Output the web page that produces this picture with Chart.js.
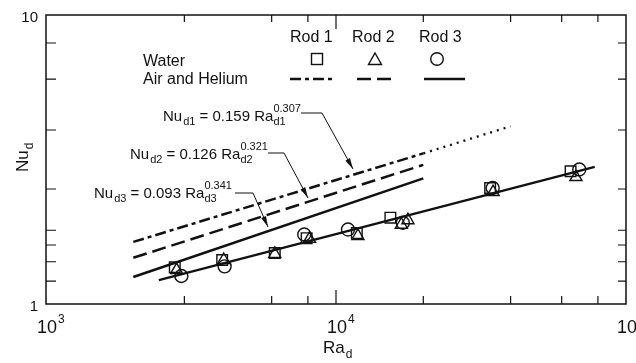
<!DOCTYPE html>
<html>
<head>
<meta charset="utf-8">
<script src="https://cdn.jsdelivr.net/npm/chart.js@4.4.0/dist/chart.umd.min.js"></script>
<style>
  html, body { margin: 0; padding: 0; background: #fff; }
</style>
</head>
<body>
<canvas id="nuChart" width="636" height="363"></canvas>
<script>
// Water measurements per rod, [Ra_d, Nu_d]
const rod1Water = [[2780, 1.34], [4050, 1.42], [6150, 1.50], [7920, 1.69], [11800, 1.76], [15400, 1.99], [34000, 2.52], [64400, 2.88]];
const rod2Water = [[2820, 1.31], [4100, 1.42], [6150, 1.49], [8100, 1.68], [11900, 1.72], [16800, 1.88], [17700, 1.95], [34800, 2.44], [67200, 2.75]];
const rod3Water = [[2930, 1.25], [4130, 1.35], [7770, 1.74], [11000, 1.81], [17000, 1.91], [34700, 2.52], [69000, 2.92]];

// Straight fit through the water points
const waterFit = [[2450, 1.21], [78000, 2.98]];

// Air and helium correlations, end points of each line
const rod1Air = [[2000, 1.64], [20000, 3.32]];
const rod1AirExt = [[20000, 3.32], [40000, 4.12]];
const rod2Air = [[2000, 1.445], [20000, 3.03]];
const rod3Air = [[2000, 1.24], [20000, 2.72]];

// Axis labels
const xDecades = [1000, 10000, 100000];
const xDecadeExp = ['3', '4', '5'];
const yTickValues = [1, 10];
const yTickText = ['1', '10'];

const rodNames = ['Rod 1', 'Rod 2', 'Rod 3'];
const fluidNames = ['Water', 'Air and Helium'];
const eqSubs = ['d1', 'd2', 'd3'];
const eqCoefs = ['0.159', '0.126', '0.093'];
const eqExps = ['0.307', '0.321', '0.341'];

const INK = '#111';
const FONT = "'Liberation Sans', Arial, sans-serif";

const pts = arr => arr.map(([x, y]) => ({ x, y }));

function pointSet(data, style, radius) {
  return {
    data: pts(data),
    showLine: false,
    pointStyle: style,
    pointRadius: radius,
    pointBorderColor: INK,
    pointBackgroundColor: 'rgba(0,0,0,0)',
    pointBorderWidth: 1.4
  };
}

function lineSet(data, dash, width) {
  return {
    data: pts(data),
    showLine: true,
    borderColor: INK,
    borderWidth: width,
    borderDash: dash,
    pointRadius: 0,
    tension: 0
  };
}

function font(size) {
  return size + 'px ' + FONT;
}

// Nu_dN = c Ra_dN^e with sub/superscripts
function drawEquation(ctx, x, y, i) {
  ctx.textAlign = 'left';
  ctx.textBaseline = 'alphabetic';
  ctx.font = font(15);
  ctx.fillText('Nu', x, y);
  x += ctx.measureText('Nu').width + 1;
  ctx.font = font(11);
  ctx.fillText(eqSubs[i], x, y + 4);
  x += ctx.measureText(eqSubs[i]).width;
  ctx.font = font(15);
  const mid = ' = ' + eqCoefs[i] + ' Ra';
  ctx.fillText(mid, x, y);
  x += ctx.measureText(mid).width;
  ctx.font = font(11);
  ctx.fillText(eqSubs[i], x, y + 4);
  ctx.fillText(eqExps[i], x, y - 9);
}

function drawArrow(ctx, path) {
  ctx.beginPath();
  ctx.moveTo(path[0][0], path[0][1]);
  for (let k = 1; k < path.length; k++) ctx.lineTo(path[k][0], path[k][1]);
  ctx.lineWidth = 1;
  ctx.stroke();
  const [x1, y1] = path[path.length - 2];
  const [x2, y2] = path[path.length - 1];
  const a = Math.atan2(y2 - y1, x2 - x1);
  const len = 11, half = 2.6;
  ctx.beginPath();
  ctx.moveTo(x2, y2);
  ctx.lineTo(x2 - len * Math.cos(a) + half * Math.sin(a), y2 - len * Math.sin(a) - half * Math.cos(a));
  ctx.lineTo(x2 - len * Math.cos(a) - half * Math.sin(a), y2 - len * Math.sin(a) + half * Math.cos(a));
  ctx.closePath();
  ctx.fill();
}

const decorations = {
  id: 'decorations',
  afterDraw(chart) {
    const { ctx, chartArea: area, scales } = chart;
    const { left, right, top, bottom } = area;
    ctx.save();
    ctx.strokeStyle = INK;
    ctx.fillStyle = INK;
    ctx.setLineDash([]);

    // frame
    ctx.lineWidth = 1.5;
    ctx.strokeRect(left, top, right - left, bottom - top);

    // inward ticks on all four sides
    ctx.lineWidth = 1.2;
    ctx.beginPath();
    scales.x.ticks.forEach(t => {
      const px = scales.x.getPixelForValue(t.value);
      if (px <= left + 1 || px >= right - 1) return;
      const major = Math.abs(Math.log10(t.value) - Math.round(Math.log10(t.value))) < 1e-6;
      ctx.moveTo(px, bottom); ctx.lineTo(px, bottom - (major ? 14 : 8));
      ctx.moveTo(px, top); ctx.lineTo(px, top + (major ? 14 : 7));
    });
    scales.y.ticks.forEach(t => {
      const py = scales.y.getPixelForValue(t.value);
      if (py <= top + 1 || py >= bottom - 1) return;
      ctx.moveTo(left, py); ctx.lineTo(left + 10, py);
      ctx.moveTo(right, py); ctx.lineTo(right - 8, py);
    });
    ctx.stroke();

    // x decade labels: 10 with exponent
    xDecades.forEach((v, i) => {
      const px = scales.x.getPixelForValue(v);
      ctx.textAlign = 'left';
      ctx.textBaseline = 'alphabetic';
      ctx.font = font(18);
      ctx.fillText('10', px - 9, bottom + 29);
      const w = ctx.measureText('10').width;
      ctx.font = font(12);
      ctx.fillText(xDecadeExp[i], px - 8 + w, bottom + 19);
    });

    // y labels
    ctx.font = font(15);
    ctx.textAlign = 'right';
    ctx.textBaseline = 'middle';
    yTickValues.forEach((v, i) => {
      ctx.fillText(yTickText[i], left - 8, scales.y.getPixelForValue(v) + 3);
    });

    // axis titles
    ctx.textAlign = 'left';
    ctx.textBaseline = 'alphabetic';
    ctx.font = font(17);
    ctx.fillText('Ra', 323, 353);
    let w = ctx.measureText('Ra').width;
    ctx.font = font(12);
    ctx.fillText('d', 323 + w + 1, 358);

    ctx.save();
    ctx.translate(28, 172);
    ctx.rotate(-Math.PI / 2);
    ctx.font = font(17);
    ctx.fillText('Nu', 0, 0);
    w = ctx.measureText('Nu').width;
    ctx.font = font(12);
    ctx.fillText('d', w + 1, 5);
    ctx.restore();

    // legend
    ctx.font = font(16);
    ctx.textAlign = 'left';
    [290, 352, 419].forEach((x, i) => ctx.fillText(rodNames[i], x, 42));
    ctx.fillText(fluidNames[0], 143, 66);
    ctx.fillText(fluidNames[1], 143, 84);

    ctx.lineWidth = 1.4;
    ctx.strokeRect(311.5, 53.5, 11, 11);
    ctx.beginPath();
    ctx.moveTo(375, 53); ctx.lineTo(381.5, 64.5); ctx.lineTo(368.5, 64.5); ctx.closePath();
    ctx.stroke();
    ctx.beginPath();
    ctx.arc(437, 59, 6.3, 0, Math.PI * 2);
    ctx.stroke();

    ctx.lineWidth = 2.5;
    [[290, 333, [11, 4, 4, 4]], [357, 396, [14, 6]], [424, 465, []]].forEach(([x1, x2, dash]) => {
      ctx.setLineDash(dash);
      ctx.beginPath();
      ctx.moveTo(x1, 79); ctx.lineTo(x2, 79);
      ctx.stroke();
    });
    ctx.setLineDash([]);

    // correlation labels with leader arrows
    ctx.fillStyle = INK;
    drawEquation(ctx, 163, 121, 0);
    drawEquation(ctx, 130, 159, 1);
    drawEquation(ctx, 94, 198, 2);
    drawArrow(ctx, [[301, 113], [322, 113], [353, 169]]);
    drawArrow(ctx, [[268, 153], [284, 153], [308, 198]]);
    drawArrow(ctx, [[235, 193], [253, 193], [268, 227]]);

    ctx.restore();
  }
};

new Chart(document.getElementById('nuChart'), {
  type: 'scatter',
  data: {
    datasets: [
      lineSet(waterFit, [], 2.4),
      lineSet(rod1Air, [11, 4, 4, 4], 2.5),
      lineSet(rod1AirExt, [2, 5], 2.3),
      lineSet(rod2Air, [14, 6], 2.5),
      lineSet(rod3Air, [], 2.5),
      pointSet(rod1Water, 'rect', 7.5),
      pointSet(rod2Water, 'triangle', 7),
      pointSet(rod3Water, 'circle', 6.5)
    ]
  },
  options: {
    responsive: false,
    animation: false,
    layout: { padding: { left: 46, top: 15, right: 10, bottom: 59 } },
    plugins: { legend: { display: false }, tooltip: { enabled: false } },
    scales: {
      x: { type: 'logarithmic', min: 1000, max: 100000, display: false },
      y: { type: 'logarithmic', min: 1, max: 10, display: false }
    }
  },
  plugins: [decorations]
});
</script>
</body>
</html>
